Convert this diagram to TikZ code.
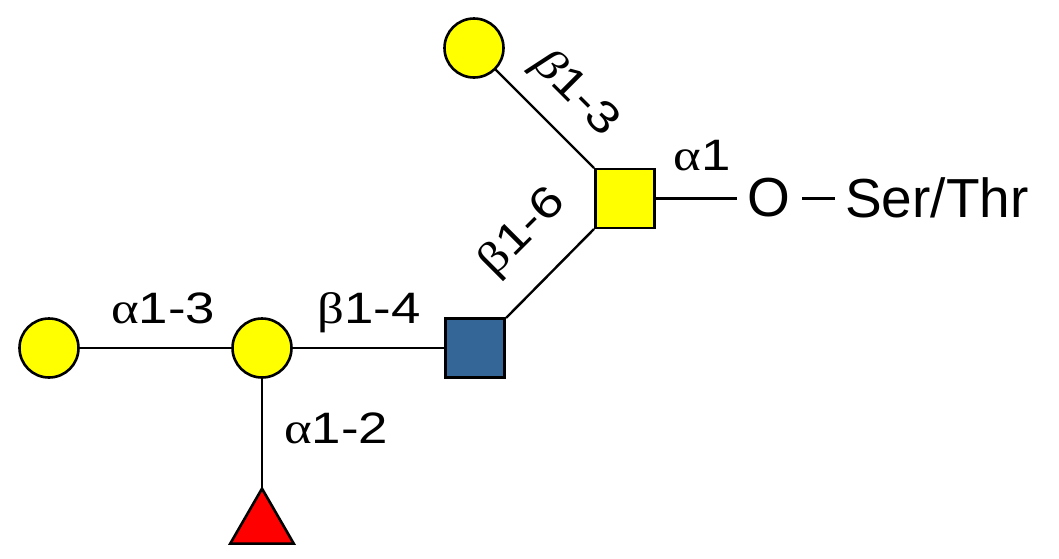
\documentclass[tikz,border=0pt]{standalone}
\usepackage{fontspec}
\setmainfont{Liberation Sans}
\newfontfamily\labfont[FakeStretch=1.2]{Liberation Sans}
\newfontfamily\grk[FakeStretch=1.2]{Liberation Serif}
\usetikzlibrary{shapes.geometric}
\definecolor{gyel}{RGB}{255,255,0}
\definecolor{gblu}{RGB}{52,103,151}
\definecolor{gred}{RGB}{255,0,0}
\begin{document}
\begin{tikzpicture}[x=1pt,y=-1pt,
  circ/.style={circle,draw=black,line width=2.6pt,fill=gyel,minimum size=59pt,inner sep=0pt},
  sqy/.style={rectangle,draw=black,line width=2.6pt,fill=gyel,minimum size=59pt,inner sep=0pt},
  sqb/.style={rectangle,draw=black,line width=2.6pt,fill=gblu,minimum size=59pt,inner sep=0pt},
  tri/.style={isosceles triangle,isosceles triangle apex angle=60,shape border rotate=90,draw=black,line width=2.6pt,fill=gred,minimum height=55pt,inner sep=0pt},
  bond/.style={line width=2.4pt},
  lab/.style={font=\labfont\fontsize{44}{48}\selectfont,inner sep=0pt},
  big/.style={font=\fontsize{55}{60}\selectfont,inner sep=0pt}]
\useasboundingbox (0,0) rectangle (1059,558);
\coordinate (galtopc) at (474,48);
\coordinate (galnacc) at (625,198.5);
\coordinate (glcnacc) at (475,348);
\coordinate (galmc) at (262,348);
\coordinate (gallc) at (49,348);
\node[big,anchor=center] (O) at (769,198) {O};
\node[big,anchor=west] (ST) at (845,198) {Ser/Thr};
\draw[bond] (galtopc) -- (594,168);
\draw[bond] (594,229) -- (506,318);
\draw[bond] (galnacc) -- (737,198.5);
\draw[bond] (802,198.5) -- (835,198.5);
\draw[bond] (glcnacc) -- (galmc);
\draw[bond] (galmc) -- (gallc);
\draw[bond] (galmc) -- (262,490);
\node[circ] (galtop) at (galtopc) {};
\node[sqy] (galnac) at (galnacc) {};
\node[sqb] (glcnac) at (glcnacc) {};
\node[circ] (galm) at (galmc) {};
\node[circ] (gall) at (gallc) {};
\node[tri,anchor=apex] (fuc) at (262,486) {};
\node[lab,rotate=-45] (l13b) at (575,94) {{\grk\itshape β}1-3};
\node[lab,rotate=45] (l16) at (523,233) {{\grk β}1-6};
\node[lab,anchor=base] (la1) at (702,170) {{\grk α}1};
\node[lab,anchor=base] (l13a) at (163,323) {{\grk α}1-3};
\node[lab,anchor=base] (l14) at (369,323) {{\grk β}1-4};
\node[lab,anchor=base] (l12) at (336,443) {{\grk α}1-2};
\end{tikzpicture}
\end{document}
